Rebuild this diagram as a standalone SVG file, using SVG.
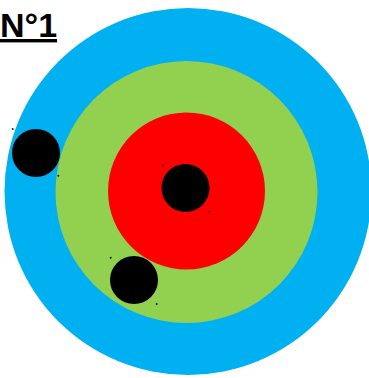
<svg xmlns="http://www.w3.org/2000/svg" width="369" height="378" viewBox="0 0 369 378">
<style>
.title{font-family:"Liberation Sans",Arial,sans-serif;font-weight:bold;font-size:34px;fill:#000;text-decoration:underline}
.ball{fill:#000}
.dot{fill:#222}
</style>
<rect width="369" height="378" fill="#fff"/>
<text class="title" x="0" y="37">N°1</text>
<g id="target">
<circle cx="188" cy="191.5" r="183.5" fill="#00B0F0"/>
<circle cx="186.5" cy="192" r="131" fill="#92D050"/>
<circle cx="186.5" cy="191" r="78.5" fill="#FF0000"/>
</g>
<g id="ball-center">
<circle class="ball" cx="185.5" cy="188" r="24"/>
<circle class="dot" cx="162.7" cy="165.7" r="1"/>
<circle class="dot" cx="209" cy="211.7" r="1"/>
</g>
<g id="ball-left">
<circle class="ball" cx="36" cy="153" r="24"/>
<circle class="dot" cx="12.7" cy="129" r="1"/>
<circle class="dot" cx="58.3" cy="175.7" r="1"/>
</g>
<g id="ball-bottom">
<circle class="ball" cx="134" cy="280" r="24"/>
<circle class="dot" cx="110.7" cy="257.7" r="1"/>
<circle class="dot" cx="156.7" cy="304" r="1"/>
</g>
</svg>
